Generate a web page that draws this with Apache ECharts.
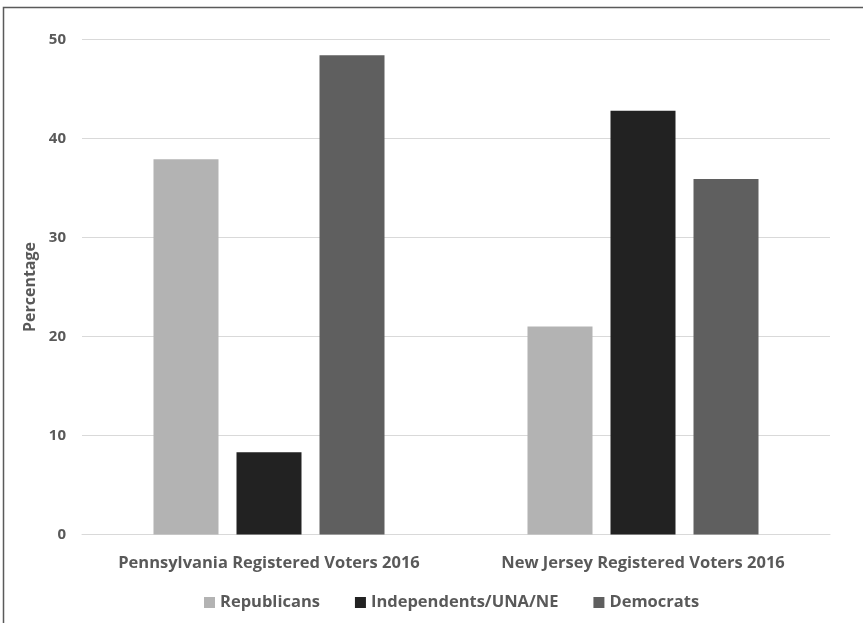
<!DOCTYPE html>
<html>
<head>
<meta charset="utf-8">
<title>Registered Voters 2016</title>
<script src="https://cdn.jsdelivr.net/npm/echarts@6/dist/echarts.min.js"></script>
<style>
  html, body { margin: 0; padding: 0; background: #ffffff; }
  #chart { width: 863px; height: 623px; }
</style>
</head>
<body>
<div id="chart"></div>
<script>
// Registered voter shares (%) by party for two states
const categories = ['Pennsylvania Registered Voters 2016', 'New Jersey Registered Voters 2016'];
const seriesNames = ['Republicans', 'Independents/UNA/NE', 'Democrats'];
const republicans = [37.9, 21.0];
const independents = [8.3, 42.8];
const democrats = [48.4, 35.9];
const yTicks = { min: 0, max: 50, interval: 10 };

const colors = ['#b3b3b3', '#222222', '#5f5f5f'];
const fontFamily = '"Open Sans", sans-serif';
const textColor = '#595959';

const chart = echarts.init(document.getElementById('chart'), null, { renderer: 'canvas' });

const values = [republicans, independents, democrats];

chart.setOption({
  animation: false,
  backgroundColor: '#ffffff',
  color: colors,
  textStyle: { fontFamily: fontFamily },
  graphic: [{
    type: 'rect',
    shape: { x: 3.5, y: 7.5, width: 1000, height: 1000 },
    style: { fill: 'none', stroke: '#5a5a5a', lineWidth: 1.5 },
    silent: true
  }],
  grid: { left: 82, right: 33, top: 39.5, bottom: 88.5, containLabel: false },
  legend: {
    left: 199,
    top: 589,
    itemWidth: 11,
    itemHeight: 11,
    itemGap: 35,
    icon: 'rect',
    textStyle: { fontFamily: fontFamily, fontWeight: 'bold', fontSize: 16.5, color: textColor },
    data: seriesNames
  },
  xAxis: {
    type: 'category',
    data: categories,
    axisLine: { show: true, lineStyle: { color: '#d9d9d9', width: 1 } },
    axisTick: { show: false },
    axisLabel: { margin: 20, fontFamily: fontFamily, fontWeight: 'bold', fontSize: 16.5, color: textColor, interval: 0 }
  },
  yAxis: {
    type: 'value',
    min: yTicks.min,
    max: yTicks.max,
    interval: yTicks.interval,
    name: 'Percentage',
    nameLocation: 'middle',
    nameGap: 37,
    nameTextStyle: { fontFamily: fontFamily, fontWeight: 'bold', fontSize: 16, color: textColor },
    axisLine: { show: false },
    axisTick: { show: false },
    axisLabel: { margin: 16, fontFamily: fontFamily, fontWeight: 'bold', fontSize: 15, color: textColor },
    splitLine: { show: true, lineStyle: { color: '#d9d9d9', width: 1 } }
  },
  series: seriesNames.map((name, i) => ({
    name: name,
    type: 'bar',
    data: values[i],
    barWidth: 65,
    barGap: '27.7%',
    barCategoryGap: '38%',
    itemStyle: { color: colors[i] }
  }))
});
</script>
</body>
</html>
